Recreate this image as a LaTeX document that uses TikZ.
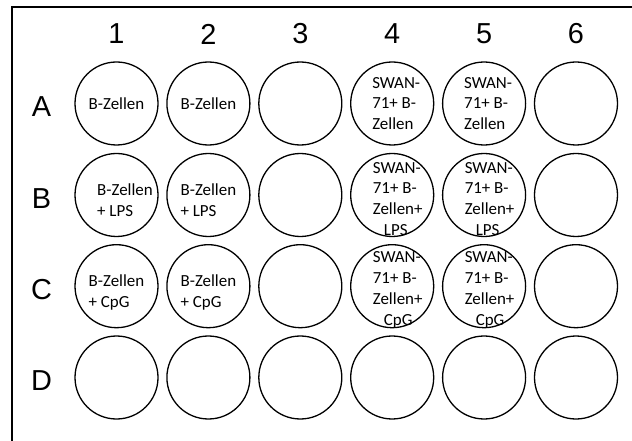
\documentclass[tikz,border=0pt]{standalone}
\usepackage{fontspec}
\setmainfont{Carlito}
\newfontfamily\labelfont{Liberation Sans}
\begin{document}
\begin{tikzpicture}[x=1bp,y=-1bp,
  well/.style={draw, line width=1.3bp, circle, minimum size=83bp, inner sep=0pt},
  wtxt/.style={font=\fontsize{17}{21}\selectfont, align=left, inner sep=0pt},
  ctxt/.style={font=\fontsize{17}{21}\selectfont, align=center, inner sep=0pt},
  lbl/.style={font=\labelfont\fontsize{29}{30}\selectfont, inner sep=0pt},
  frame/.style={line width=2bp}]
\fill[white] (0,0) rectangle (632,441);
\useasboundingbox (0,0) rectangle (632,441);
% frame
\coordinate (fr) at (632,7.5);
\coordinate (fc) at (11.5,7.5);
\coordinate (fb) at (11.5,441);
\draw[frame] (fr) -- (fc) -- (fb);
% wells and labels
\foreach \c/\x in {1/116.5,2/208.4,3/300.3,4/392.2,5/484.1,6/576}{
  \node[lbl] (col\c) at (\x,34) {\c};
}
\foreach \r/\y in {A/103.5,B/195,C/286.2,D/377.5}{
  \node[lbl] (row\r) at (41.5,\y+3.5) {\r};
  \foreach \c/\x in {1/116.5,2/208.4,3/300.3,4/392.2,5/484.1,6/576}{
    \node[well] (w\r\c) at (\x,\y) {};
  }
}
% contents
\node[ctxt] (tA1) at (wA1) {B-Zellen};
\node[ctxt] (tA2) at (wA2) {B-Zellen};
\node[wtxt, xshift=4bp] (tA4) at (wA4) {SWAN-\\71+ B-\\Zellen};
\node[wtxt, xshift=4bp] (tA5) at (wA5) {SWAN-\\71+ B-\\Zellen};
\node[wtxt, xshift=8.5bp, yshift=-5bp] (tB1) at (wB1) {B-Zellen\\+ LPS};
\node[wtxt, yshift=-5bp] (tB2) at (wB2) {B-Zellen\\+ LPS};
\node[wtxt, xshift=5.5bp, yshift=-4bp] (tB4) at (wB4) {SWAN-\\71+ B-\\Zellen+\\\hspace*{11bp}LPS};
\node[wtxt, xshift=5.5bp, yshift=-4bp] (tB5) at (wB5) {SWAN-\\71+ B-\\Zellen+\\\hspace*{11bp}LPS};
\node[wtxt, yshift=-6bp] (tC1) at (wC1) {B-Zellen\\+ CpG};
\node[wtxt, yshift=-6bp] (tC2) at (wC2) {B-Zellen\\+ CpG};
\node[wtxt, xshift=5.5bp, yshift=-4bp] (tC4) at (wC4) {SWAN-\\71+ B-\\Zellen+\\\hspace*{11bp}CpG};
\node[wtxt, xshift=5.5bp, yshift=-4bp] (tC5) at (wC5) {SWAN-\\71+ B-\\Zellen+\\\hspace*{11bp}CpG};
\end{tikzpicture}
\end{document}
